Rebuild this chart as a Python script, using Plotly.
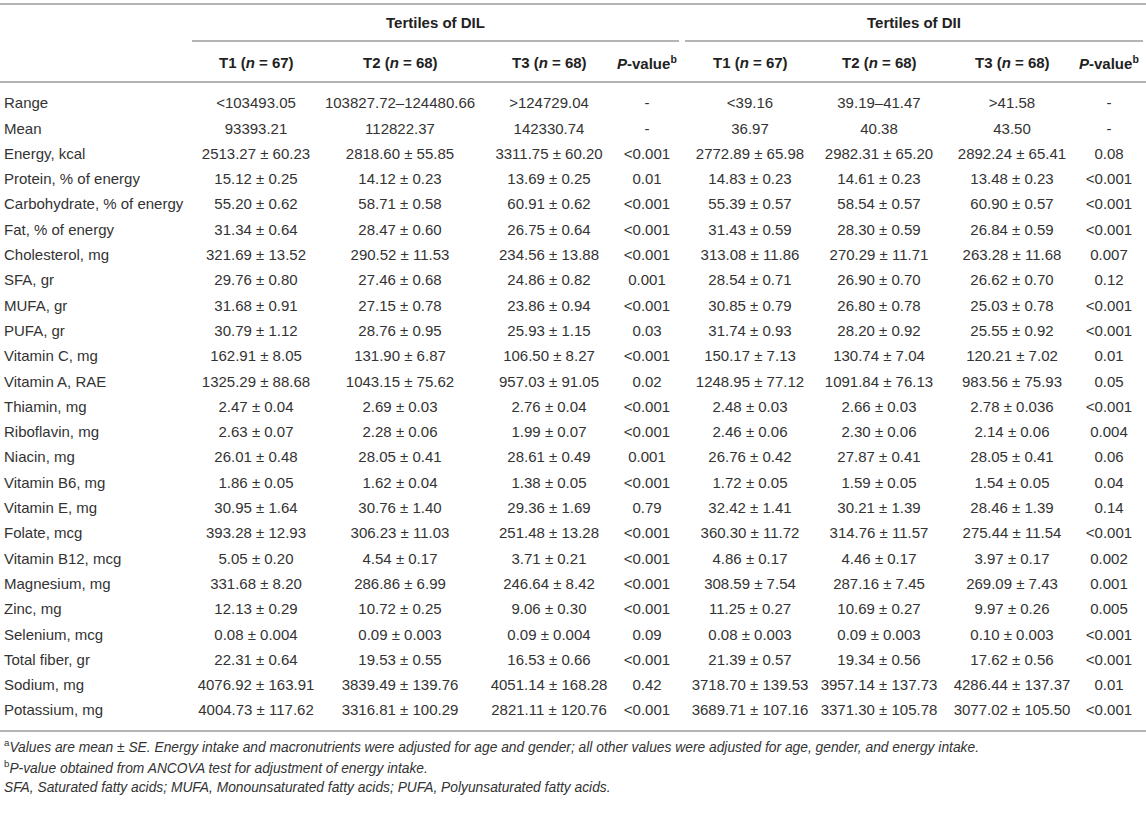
import plotly.graph_objects as go

# row labels
nutrients = [
    "Range", "Mean", "Energy, kcal", "Protein, % of energy", "Carbohydrate, % of energy",
    "Fat, % of energy", "Cholesterol, mg", "SFA, gr", "MUFA, gr", "PUFA, gr",
    "Vitamin C, mg", "Vitamin A, RAE", "Thiamin, mg", "Riboflavin, mg", "Niacin, mg",
    "Vitamin B6, mg", "Vitamin E, mg", "Folate, mcg", "Vitamin B12, mcg", "Magnesium, mg",
    "Zinc, mg", "Selenium, mcg", "Total fiber, gr", "Sodium, mg", "Potassium, mg",
]

# tertiles of DIL
dil_t1 = [
    "<103493.05", "93393.21", "2513.27 ± 60.23", "15.12 ± 0.25", "55.20 ± 0.62",
    "31.34 ± 0.64", "321.69 ± 13.52", "29.76 ± 0.80", "31.68 ± 0.91", "30.79 ± 1.12",
    "162.91 ± 8.05", "1325.29 ± 88.68", "2.47 ± 0.04", "2.63 ± 0.07", "26.01 ± 0.48",
    "1.86 ± 0.05", "30.95 ± 1.64", "393.28 ± 12.93", "5.05 ± 0.20", "331.68 ± 8.20",
    "12.13 ± 0.29", "0.08 ± 0.004", "22.31 ± 0.64", "4076.92 ± 163.91", "4004.73 ± 117.62",
]
dil_t2 = [
    "103827.72–124480.66", "112822.37", "2818.60 ± 55.85", "14.12 ± 0.23", "58.71 ± 0.58",
    "28.47 ± 0.60", "290.52 ± 11.53", "27.46 ± 0.68", "27.15 ± 0.78", "28.76 ± 0.95",
    "131.90 ± 6.87", "1043.15 ± 75.62", "2.69 ± 0.03", "2.28 ± 0.06", "28.05 ± 0.41",
    "1.62 ± 0.04", "30.76 ± 1.40", "306.23 ± 11.03", "4.54 ± 0.17", "286.86 ± 6.99",
    "10.72 ± 0.25", "0.09 ± 0.003", "19.53 ± 0.55", "3839.49 ± 139.76", "3316.81 ± 100.29",
]
dil_t3 = [
    ">124729.04", "142330.74", "3311.75 ± 60.20", "13.69 ± 0.25", "60.91 ± 0.62",
    "26.75 ± 0.64", "234.56 ± 13.88", "24.86 ± 0.82", "23.86 ± 0.94", "25.93 ± 1.15",
    "106.50 ± 8.27", "957.03 ± 91.05", "2.76 ± 0.04", "1.99 ± 0.07", "28.61 ± 0.49",
    "1.38 ± 0.05", "29.36 ± 1.69", "251.48 ± 13.28", "3.71 ± 0.21", "246.64 ± 8.42",
    "9.06 ± 0.30", "0.09 ± 0.004", "16.53 ± 0.66", "4051.14 ± 168.28", "2821.11 ± 120.76",
]
dil_p = [
    "-", "-", "<0.001", "0.01", "<0.001", "<0.001", "<0.001", "0.001", "<0.001", "0.03",
    "<0.001", "0.02", "<0.001", "<0.001", "0.001", "<0.001", "0.79", "<0.001", "<0.001",
    "<0.001", "<0.001", "0.09", "<0.001", "0.42", "<0.001",
]

# tertiles of DII
dii_t1 = [
    "<39.16", "36.97", "2772.89 ± 65.98", "14.83 ± 0.23", "55.39 ± 0.57",
    "31.43 ± 0.59", "313.08 ± 11.86", "28.54 ± 0.71", "30.85 ± 0.79", "31.74 ± 0.93",
    "150.17 ± 7.13", "1248.95 ± 77.12", "2.48 ± 0.03", "2.46 ± 0.06", "26.76 ± 0.42",
    "1.72 ± 0.05", "32.42 ± 1.41", "360.30 ± 11.72", "4.86 ± 0.17", "308.59 ± 7.54",
    "11.25 ± 0.27", "0.08 ± 0.003", "21.39 ± 0.57", "3718.70 ± 139.53", "3689.71 ± 107.16",
]
dii_t2 = [
    "39.19–41.47", "40.38", "2982.31 ± 65.20", "14.61 ± 0.23", "58.54 ± 0.57",
    "28.30 ± 0.59", "270.29 ± 11.71", "26.90 ± 0.70", "26.80 ± 0.78", "28.20 ± 0.92",
    "130.74 ± 7.04", "1091.84 ± 76.13", "2.66 ± 0.03", "2.30 ± 0.06", "27.87 ± 0.41",
    "1.59 ± 0.05", "30.21 ± 1.39", "314.76 ± 11.57", "4.46 ± 0.17", "287.16 ± 7.45",
    "10.69 ± 0.27", "0.09 ± 0.003", "19.34 ± 0.56", "3957.14 ± 137.73", "3371.30 ± 105.78",
]
dii_t3 = [
    ">41.58", "43.50", "2892.24 ± 65.41", "13.48 ± 0.23", "60.90 ± 0.57",
    "26.84 ± 0.59", "263.28 ± 11.68", "26.62 ± 0.70", "25.03 ± 0.78", "25.55 ± 0.92",
    "120.21 ± 7.02", "983.56 ± 75.93", "2.78 ± 0.036", "2.14 ± 0.06", "28.05 ± 0.41",
    "1.54 ± 0.05", "28.46 ± 1.39", "275.44 ± 11.54", "3.97 ± 0.17", "269.09 ± 7.43",
    "9.97 ± 0.26", "0.10 ± 0.003", "17.62 ± 0.56", "4286.44 ± 137.37", "3077.02 ± 105.50",
]
dii_p = [
    "-", "-", "0.08", "<0.001", "<0.001", "<0.001", "0.007", "0.12", "<0.001", "<0.001",
    "0.01", "0.05", "<0.001", "0.004", "0.06", "0.04", "0.14", "<0.001", "0.002",
    "0.001", "0.005", "<0.001", "<0.001", "0.01", "<0.001",
]

group_titles = ["Tertiles of DIL", "Tertiles of DII"]
col_headers = ["T1 (<i>n</i> = 67)", "T2 (<i>n</i> = 68)", "T3 (<i>n</i> = 68)", "<i>P</i>-value<sup>b</sup>"]

footnotes = [
    "<sup>a</sup><i>Values are mean ± SE. Energy intake and macronutrients were adjusted for age and gender; "
    "all other values were adjusted for age, gender, and energy intake.</i>",
    "<sup>b</sup><i>P-value obtained from ANCOVA test for adjustment of energy intake.</i>",
    "<i>SFA, Saturated fatty acids; MUFA, Monounsaturated fatty acids; PUFA, Polyunsaturated fatty acids.</i>",
]

W, H = 1146, 829
FONT = "Liberation Sans, Arial, Helvetica, sans-serif"
TXT = "#333333"
HEAD = "#222222"
RULE = "#b4b4b4"
FS = 15

col_x = [256, 400, 549, 647, 750, 879, 1012, 1109]
columns = [dil_t1, dil_t2, dil_t3, dil_p, dii_t1, dii_t2, dii_t3, dii_p]

# row geometry in pixels
row0, row_step = 104.5, 25.3
rows = list(range(len(nutrients)))

fig = go.Figure()

fig.add_trace(go.Scatter(
    x=[4] * len(nutrients), y=rows, text=nutrients, mode="text",
    textposition="middle right", textfont=dict(size=FS, color=TXT, family=FONT),
    hoverinfo="none", showlegend=False, cliponaxis=False,
))
for cx, col in zip(col_x, columns):
    fig.add_trace(go.Scatter(
        x=[cx] * len(col), y=rows, text=col, mode="text",
        textposition="middle center", textfont=dict(size=FS, color=TXT, family=FONT),
        hoverinfo="none", showlegend=False, cliponaxis=False,
    ))


def px_to_row(py):
    return (py - row0) / row_step


# header cells
header_y = px_to_row(62)
for i, cx in enumerate(col_x):
    fig.add_annotation(x=cx, y=header_y, text="<b>" + col_headers[i % 4] + "</b>",
                       showarrow=False, font=dict(size=FS, color=HEAD, family=FONT))

group_spans = [(192, 679), (685, 1143)]
for title, (a, b) in zip(group_titles, group_spans):
    fig.add_annotation(x=(a + b) / 2, y=px_to_row(22), text="<b>" + title + "</b>",
                       showarrow=False, font=dict(size=FS, color=HEAD, family=FONT))
    fig.add_shape(type="line", x0=a, x1=b, y0=px_to_row(41), y1=px_to_row(41),
                  line=dict(color=RULE, width=2))

for py in [4, 82, 731]:
    fig.add_shape(type="line", x0=0, x1=W, y0=px_to_row(py), y1=px_to_row(py),
                  line=dict(color=RULE, width=2))

for i, note in enumerate(footnotes):
    fig.add_annotation(x=2, y=px_to_row(746 + i * 20.5), text=note, showarrow=False,
                       xanchor="left", font=dict(size=13.8, color=TXT, family=FONT))

fig.update_layout(
    width=W, height=H,
    margin=dict(l=0, r=0, t=0, b=0),
    paper_bgcolor="white", plot_bgcolor="white",
    xaxis=dict(range=[0, W], visible=False, fixedrange=True),
    yaxis=dict(range=[px_to_row(H), px_to_row(0)], visible=False, fixedrange=True),
    hovermode=False, showlegend=False,
)

# drop the default page margin so the table sits flush in the window
fig.write_html("out.html", post_script="document.body.style.margin='0';",
               config={"displayModeBar": False})
